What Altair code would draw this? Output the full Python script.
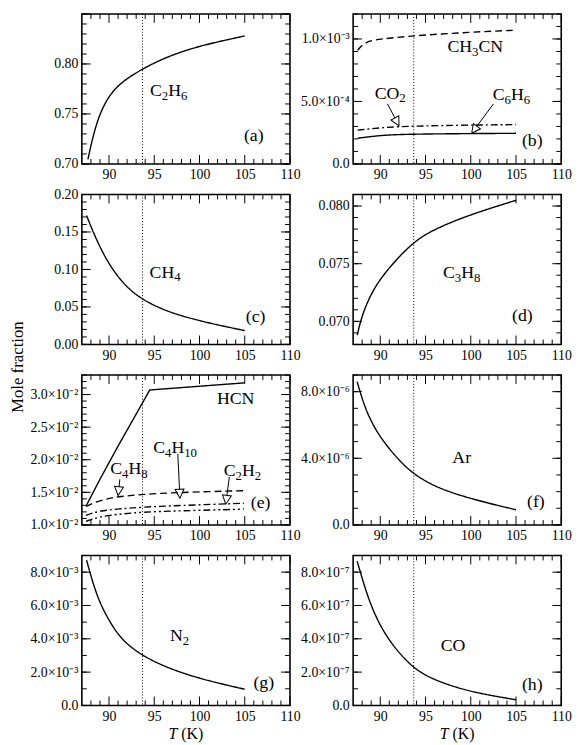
import math
import altair as alt
import pandas as pd

FONT = "Liberation Serif"
W, H = 211, 152            # plot area of one panel
TICK_MAJOR, TICK_MINOR = 9, 5
T_DOMAIN = [87, 110]
T_SURFACE = 93.7           # Titan surface temperature (K)
T_MAJOR = [90, 95, 100, 105, 110]
T_MINOR = [t for t in range(88, 110) if t % 5]

# ---------------- (a) ethane ----------------
T_C2H6 = [87.67, 88.18, 88.91, 90.0, 91.45, 93.67, 96.2, 99.85, 105.0]
X_C2H6 = [0.7046, 0.726, 0.749, 0.7687, 0.7825, 0.795, 0.8065, 0.818, 0.828]

# ---------------- (b) minor species ----------------
T_CH3CN = [87.5, 88.35, 90.0, 93.7, 100.0, 105.0]
X_CH3CN = [9.1e-4, 9.8e-4, 1.0e-3, 1.026e-3, 1.055e-3, 1.07e-3]
T_CO2 = [87.5, 90.0, 93.7, 105.0]
X_CO2 = [2.7e-4, 2.9e-4, 3.05e-4, 3.15e-4]
T_C6H6 = [87.5, 90.0, 93.7, 105.0]
X_C6H6 = [2.05e-4, 2.3e-4, 2.4e-4, 2.45e-4]

# ---------------- (c) methane ----------------
T_CH4 = [87.52, 88.54, 90.0, 91.8, 93.64, 96.2, 99.8, 105.0]
X_CH4 = [0.172, 0.141, 0.106, 0.0776, 0.060, 0.0447, 0.0316, 0.0184]

# ---------------- (d) propane ----------------
T_C3H8 = [87.45, 88.0, 89.1, 90.55, 93.6, 96.0, 99.7, 105.0]
X_C3H8 = [0.0688, 0.0706, 0.0726, 0.0743, 0.0769, 0.0780, 0.0792, 0.0805]

# ---------------- (e) HCN and C4/C2 hydrocarbons ----------------
T_HCN = [87.5, 89.0, 91.0, 93.0, 94.5, 105.0]
X_HCN = [0.0130, 0.0170, 0.0221, 0.0270, 0.0307, 0.0318]
T_C4H8 = [87.45, 88.5, 90.0, 91.1, 93.64, 97.65, 104.9]
X_C4H8 = [0.01283, 0.0135, 0.0141, 0.01434, 0.01469, 0.01499, 0.01525]
T_C2H2 = [87.45, 88.9, 91.1, 93.64, 97.65, 104.9]
X_C2H2 = [0.01147, 0.01216, 0.01247, 0.01272, 0.01298, 0.01332]
T_C4H10 = [87.45, 88.9, 91.1, 93.64, 97.65, 104.9]
X_C4H10 = [0.01056, 0.01126, 0.01166, 0.01197, 0.01216, 0.01242]

# ---------------- (f) argon ----------------
T_AR = [87.44, 88.35, 89.45, 90.55, 92.0, 93.6, 96.0, 99.7, 105.0]
X_AR = [8.6e-6, 6.93e-6, 5.74e-6, 4.86e-6, 3.92e-6, 3.08e-6, 2.29e-6, 1.6e-6, 0.91e-6]

# ---------------- (g) nitrogen ----------------
T_N2 = [87.52, 88.17, 88.9, 90.0, 91.45, 93.64, 96.2, 99.84, 105.0]
X_N2 = [8.72e-3, 7.44e-3, 6.26e-3, 5.07e-3, 3.89e-3, 3.0e-3, 2.31e-3, 1.62e-3, 0.97e-3]

# ---------------- (h) carbon monoxide ----------------
T_CO = [87.44, 87.8, 88.9, 90.7, 93.6, 96.0, 99.7, 105.0]
X_CO = [8.66e-7, 8.0e-7, 6.0e-7, 4.0e-7, 2.2e-7, 1.52e-7, 0.83e-7, 0.34e-7]

# ---------------- y-axis labels ----------------
YV_A, YL_A = [0.70, 0.75, 0.80], ["0.70", "0.75", "0.80"]
YV_B, YL_B = [0.0, 5e-4, 1e-3], ["0.0", "5.0×10⁻⁴", "1.0×10⁻³"]
YV_C, YL_C = [0.0, 0.05, 0.10, 0.15, 0.20], ["0.00", "0.05", "0.10", "0.15", "0.20"]
YV_D, YL_D = [0.070, 0.075, 0.080], ["0.070", "0.075", "0.080"]
YV_E = [0.010, 0.015, 0.020, 0.025, 0.030]
YL_E = ["1.0×10⁻²", "1.5×10⁻²", "2.0×10⁻²", "2.5×10⁻²", "3.0×10⁻²"]
YV_F, YL_F = [0.0, 4e-6, 8e-6], ["0.0", "4.0×10⁻⁶", "8.0×10⁻⁶"]
YV_G = [0.0, 2e-3, 4e-3, 6e-3, 8e-3]
YL_G = ["0.0", "2.0×10⁻³", "4.0×10⁻³", "6.0×10⁻³", "8.0×10⁻³"]
YV_H = [0.0, 2e-7, 4e-7, 6e-7, 8e-7]
YL_H = ["0.0", "2.0×10⁻⁷", "4.0×10⁻⁷", "6.0×10⁻⁷", "8.0×10⁻⁷"]

Y_TITLE = "Mole fraction"

# Times-metric advance widths (em) for composing formulas with subscripts
GLYPH_W = {"C": .667, "H": .722, "N": .722, "O": .722, "A": .722, "r": .333}
SUB_SCALE, SUB_DROP = 0.72, 0.22


def steps(lo, hi, step):
    n = int(round((hi - lo) / step))
    return [round(lo + i * step, 12) for i in range(n + 1)]


def label_expr(values, labels):
    expr = repr(labels[-1])
    for i in range(len(values) - 2, -1, -1):
        mid = (values[i] + values[i + 1]) / 2
        expr = f"datum.value < {mid!r} ? {labels[i]!r} : " + expr
    return expr


def parse_formula(markup):
    pieces, i = [], 0
    while i < len(markup):
        if markup[i] == "_":
            j = i + 1
            while j < len(markup) and markup[j].isdigit():
                j += 1
            pieces.append((markup[i + 1:j], True))
            i = j
        else:
            j = i
            while j < len(markup) and markup[j] != "_":
                j += 1
            pieces.append((markup[i:j], False))
            i = j
    return pieces


def make_panel(p):
    xsc = alt.Scale(domain=T_DOMAIN, nice=False, zero=False)
    xax = alt.Axis(values=T_MAJOR, title=None, format="d", labelFlush=False,
                   labelOverlap=False)
    ysc = alt.Scale(domain=p["ydom"], nice=False, zero=False)
    yax = alt.Axis(values=p["yv"], title=None, labelFlush=False, labelOverlap=False,
                   labelExpr=label_expr(p["yv"], p["yl"]))

    def X(f="T"):
        return alt.X(f, type="quantitative", scale=xsc, axis=xax)

    def Y(f="v"):
        return alt.Y(f, type="quantitative", scale=ysc, axis=yax)

    sx = W / (T_DOMAIN[1] - T_DOMAIN[0])
    sy = H / (p["ydom"][1] - p["ydom"][0])
    layers = []

    # surface temperature marker
    layers.append(alt.Chart(pd.DataFrame({"T": [T_SURFACE]}))
                  .mark_rule(color="black", strokeWidth=1, strokeDash=[1, 2])
                  .encode(x=X()))

    # inward ticks on all four sides
    for vals, ln in ((T_MAJOR, TICK_MAJOR), (T_MINOR, TICK_MINOR)):
        d = pd.DataFrame({"T": vals})
        layers.append(alt.Chart(d).mark_rule(color="black", strokeWidth=1)
                      .encode(x=X(), y=alt.value(H), y2=alt.value(H - ln)))
        layers.append(alt.Chart(d).mark_rule(color="black", strokeWidth=1)
                      .encode(x=X(), y=alt.value(0), y2=alt.value(ln)))
    for vals, ln in ((p["ymajor"], TICK_MAJOR), (p["yminor"], TICK_MINOR)):
        d = pd.DataFrame({"v": vals})
        layers.append(alt.Chart(d).mark_rule(color="black", strokeWidth=1)
                      .encode(y=Y(), x=alt.value(0), x2=alt.value(ln)))
        layers.append(alt.Chart(d).mark_rule(color="black", strokeWidth=1)
                      .encode(y=Y(), x=alt.value(W), x2=alt.value(W - ln)))

    # curves
    for ts, xs, dash, interp in p["series"]:
        layers.append(alt.Chart(pd.DataFrame({"T": ts, "v": xs}))
                      .mark_line(color="black", strokeWidth=1.4, strokeDash=dash,
                                 interpolate=interp)
                      .encode(x=X(), y=Y()))

    # arrows: shaft to the base of an open triangular head
    head = 9.0
    for t0, v0, t1, v1 in p.get("arrows", []):
        dxp, dyp = (t1 - t0) * sx, -(v1 - v0) * sy
        L = math.hypot(dxp, dyp)
        ux, uy = dxp / L, dyp / L
        tb = t1 - ux * head / sx
        vb = v1 + uy * head / sy
        ang = math.degrees(math.atan2(-ux, uy)) % 360
        layers.append(alt.Chart(pd.DataFrame({"T": [t0], "v": [v0], "T2": [tb], "v2": [vb]}))
                      .mark_rule(color="black", strokeWidth=1)
                      .encode(x=X(), y=Y(), x2="T2", y2="v2"))
        layers.append(alt.Chart(pd.DataFrame({"T": [t1], "v": [v1]}))
                      .mark_point(shape="M0,0L-0.5,-1L0.5,-1Z", size=(2 * head) ** 2,
                                  filled=False, stroke="black", strokeWidth=1,
                                  opacity=1, angle=ang)
                      .encode(x=X(), y=Y()))

    # chemical formulae with subscripts, centred on (T, v)
    for t, v, markup, size in p["formulae"]:
        pieces = parse_formula(markup)
        widths = []
        for txt, sub in pieces:
            fs = size * SUB_SCALE if sub else size
            widths.append(sum(GLYPH_W.get(c, .5) for c in txt) * fs)
        x0 = -sum(widths) / 2
        for (txt, sub), w in zip(pieces, widths):
            fs = size * SUB_SCALE if sub else size
            dy = 0.33 * size + (SUB_DROP * size if sub else 0)
            layers.append(alt.Chart(pd.DataFrame({"T": [t], "v": [v], "s": [txt]}))
                          .mark_text(align="left", baseline="alphabetic", dx=x0, dy=dy,
                                     font=FONT, fontSize=fs, color="black")
                          .encode(x=X(), y=Y(), text="s:N"))
            x0 += w

    # panel tag
    t, v, tag = p["tag"]
    layers.append(alt.Chart(pd.DataFrame({"T": [t], "v": [v], "s": [tag]}))
                  .mark_text(align="center", baseline="middle", font=FONT, fontSize=18,
                             color="black")
                  .encode(x=X(), y=Y(), text="s:N"))

    # shared y title, drawn once beside the third row
    if p.get("ytitle"):
        layers.append(alt.Chart(pd.DataFrame({"s": [Y_TITLE]}))
                      .mark_text(align="center", baseline="middle", angle=270, font=FONT,
                                 fontSize=17, color="black")
                      .encode(x=alt.value(-65), y=alt.value(-8), text="s:N"))

    # temperature title under the bottom row
    if p.get("xtitle"):
        fs = 16
        wT, wK = 0.556 * fs, 0.25 * fs
        left = -(wT + wK + 1.388 * fs) / 2
        layers.append(alt.Chart(pd.DataFrame({"s": ["T"]}))
                      .mark_text(align="left", baseline="alphabetic", font=FONT, fontSize=fs,
                                 fontStyle="italic", color="black", dx=left)
                      .encode(x=alt.value(W / 2), y=alt.value(H + 34), text="s:N"))
        layers.append(alt.Chart(pd.DataFrame({"s": ["(K)"]}))
                      .mark_text(align="left", baseline="alphabetic", font=FONT, fontSize=fs,
                                 color="black", dx=left + wT + wK)
                      .encode(x=alt.value(W / 2), y=alt.value(H + 34), text="s:N"))

    return alt.layer(*layers).properties(width=W, height=H)


SOLID, DASH, DASHDOT, DASHDOTDOT = [1, 0], [7, 4], [7, 3, 2, 3], [7, 3, 2, 3, 2, 3]
SMOOTH = "basis"

panels = [
    dict(ydom=[0.70, 0.85], yv=YV_A, yl=YL_A, ymajor=steps(0.70, 0.85, 0.05),
         yminor=steps(0.70, 0.85, 0.01),
         series=[(T_C2H6, X_C2H6, SOLID, SMOOTH)],
         formulae=[(96.6, 0.7737, "C_2H_6", 18)], tag=(106.0, 0.7276, "(a)")),
    dict(ydom=[0.0, 1.2e-3], yv=YV_B, yl=YL_B, ymajor=steps(0.0, 1.2e-3, 5e-4),
         yminor=steps(0.0, 1.2e-3, 1e-4),
         series=[(T_CH3CN, X_CH3CN, DASH, SMOOTH), (T_CO2, X_CO2, DASHDOT, SMOOTH),
                 (T_C6H6, X_C6H6, SOLID, SMOOTH)],
         arrows=[(90.8, 4.8e-4, 92.07, 3.05e-4), (102.5, 4.8e-4, 100.1, 2.45e-4)],
         formulae=[(100.5, 9.4e-4, "CH_3CN", 18), (91.1, 5.7e-4, "CO_2", 18),
                   (104.5, 5.6e-4, "C_6H_6", 18)],
         tag=(106.8, 1.8e-4, "(b)")),
    dict(ydom=[0.0, 0.20], yv=YV_C, yl=YL_C, ymajor=steps(0.0, 0.20, 0.05),
         yminor=steps(0.0, 0.20, 0.01),
         series=[(T_CH4, X_CH4, SOLID, SMOOTH)],
         formulae=[(96.2, 0.097, "CH_4", 18)], tag=(106.2, 0.036, "(c)")),
    dict(ydom=[0.068, 0.081], yv=YV_D, yl=YL_D, ymajor=steps(0.070, 0.080, 0.005),
         yminor=steps(0.068, 0.081, 0.001),
         series=[(T_C3H8, X_C3H8, SOLID, SMOOTH)],
         formulae=[(99.0, 0.0743, "C_3H_8", 18)], tag=(105.7, 0.0705, "(d)")),
    dict(ydom=[0.010, 0.033], yv=YV_E, yl=YL_E, ymajor=steps(0.010, 0.030, 0.005),
         yminor=steps(0.010, 0.033, 0.001),
         series=[(T_HCN, X_HCN, SOLID, "linear"), (T_C4H8, X_C4H8, DASH, SMOOTH),
                 (T_C2H2, X_C2H2, DASHDOT, SMOOTH),
                 (T_C4H10, X_C4H10, DASHDOTDOT, SMOOTH)],
         arrows=[(91.2, 0.0170, 91.0, 0.0145), (97.6, 0.0209, 97.84, 0.0141),
                 (103.3, 0.01737, 102.9, 0.01318)],
         formulae=[(104.0, 0.0295, "HCN", 18), (92.2, 0.0187, "C_4H_8", 18),
                   (97.3, 0.0219, "C_4H_10", 18), (104.75, 0.0184, "C_2H_2", 18)],
         tag=(106.75, 0.01333, "(e)"), ytitle=True),
    dict(ydom=[0.0, 9e-6], yv=YV_F, yl=YL_F, ymajor=steps(0.0, 8e-6, 4e-6),
         yminor=steps(0.0, 9e-6, 1e-6),
         series=[(T_AR, X_AR, SOLID, SMOOTH)],
         formulae=[(99.0, 4.07e-6, "Ar", 18)], tag=(107.2, 1.4e-6, "(f)")),
    dict(ydom=[0.0, 9e-3], yv=YV_G, yl=YL_G, ymajor=steps(0.0, 8e-3, 2e-3),
         yminor=steps(0.0, 9e-3, 1e-3),
         series=[(T_N2, X_N2, SOLID, SMOOTH)],
         formulae=[(97.8, 4.19e-3, "N_2", 18)], tag=(107.1, 1.32e-3, "(g)"), xtitle=True),
    dict(ydom=[0.0, 9e-7], yv=YV_H, yl=YL_H, ymajor=steps(0.0, 8e-7, 2e-7),
         yminor=steps(0.0, 9e-7, 1e-7),
         series=[(T_CO, X_CO, SOLID, SMOOTH)],
         formulae=[(98.05, 3.6e-7, "CO", 18)], tag=(106.8, 1.22e-7, "(h)"), xtitle=True),
]

charts = [make_panel(p) for p in panels]

chart = (
    alt.concat(*charts, columns=2, spacing={"row": 31, "column": 64}, bounds="flush")
    .properties(padding={"left": 8, "top": 7, "right": 6, "bottom": 2}, background="white")
    .configure_view(stroke="black", strokeWidth=1.6)
    .configure_axis(labelFont=FONT, labelFontSize=14, labelColor="black",
                    domain=False, ticks=False, grid=False, labelPadding=4)
)

chart.save("out.html", embed_options={"renderer": "svg", "actions": False})
